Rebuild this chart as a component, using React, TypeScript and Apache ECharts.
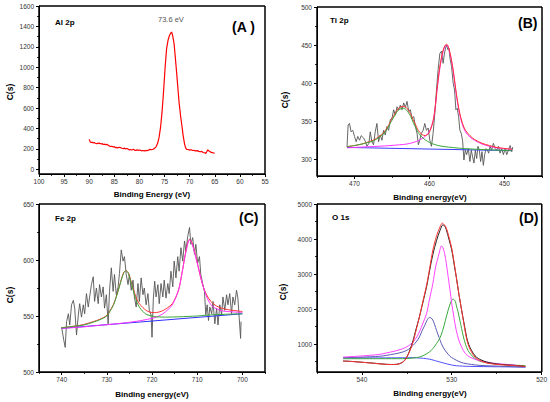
import React, { useEffect, useRef } from 'react';
import * as echarts from 'echarts';

type Pt = [number, number];
const FONT = '"Liberation Sans", Arial, Helvetica, sans-serif';

// ---------- Panel A : Al 2p ----------
const alSpectrum: Pt[] = [
  [90.0, 293], [89.8, 268], [89.6, 262], [89.4, 266], [89.2, 258], [89.0, 262], [88.8, 255], [88.5, 250],
  [88.3, 258], [88.1, 252], [87.9, 256], [87.6, 248], [87.4, 252], [87.2, 243], [86.9, 246], [86.7, 240],
  [86.5, 244], [86.2, 236], [86.0, 228], [85.8, 224], [85.5, 226], [85.2, 218], [85.0, 222], [84.8, 212],
  [84.5, 214], [84.3, 210], [84.0, 216], [83.8, 213], [83.5, 206], [83.2, 202], [83.0, 208], [82.8, 200],
  [82.5, 204], [82.2, 196], [82.0, 190], [81.8, 194], [81.5, 189], [81.2, 196], [81.0, 188], [80.8, 184],
  [80.5, 190], [80.2, 186], [79.9, 189], [79.6, 181], [79.3, 184], [79.0, 180], [78.7, 186], [78.5, 182],
  [78.2, 188], [77.9, 196], [77.6, 192], [77.3, 197], [77.0, 205], [76.7, 220], [76.4, 252], [76.1, 310],
  [75.8, 410], [75.5, 560], [75.2, 760], [74.9, 990], [74.6, 1180], [74.3, 1265], [74.1, 1300], [73.8, 1332],
  [73.6, 1345], [73.4, 1315], [73.1, 1230], [72.9, 1120], [72.6, 950], [72.3, 770], [72.1, 650], [71.8, 520],
  [71.5, 410], [71.3, 330], [71.0, 245], [70.8, 210], [70.6, 196], [70.3, 194], [70.0, 188], [69.7, 192],
  [69.4, 184], [69.1, 186], [68.8, 180], [68.5, 183], [68.2, 176], [67.9, 172], [67.6, 175], [67.3, 165],
  [67.0, 162], [66.8, 156], [66.6, 172], [66.4, 190], [66.2, 182], [66.0, 175], [65.8, 168], [65.5, 164],
  [65.2, 160], [65.0, 157],
];
const aXLabels = [100, 95, 90, 85, 80, 75, 70, 65, 60, 55];
const aXMinor = [97.5, 92.5, 87.5, 82.5, 77.5, 72.5, 67.5, 62.5, 57.5];
const aYLabels = [0, 200, 400, 600, 800, 1000, 1200, 1400, 1600];
const aYMinor = [100, 300, 500, 700, 900, 1100, 1300, 1500];

// ---------- Panel B : Ti 2p ----------
const tiSpectrum: Pt[] = [
  [471.0, 316], [470.85, 345], [470.67, 347], [470.45, 336], [470.23, 338], [470.0, 330], [469.78, 323],
  [469.56, 330], [469.33, 325], [469.11, 331], [468.8, 328], [468.53, 323], [468.35, 317], [468.08, 321],
  [467.9, 336], [467.68, 323], [467.46, 319], [467.24, 336], [467.01, 347], [466.79, 323], [466.57, 332],
  [466.34, 325], [466.12, 338], [465.9, 332], [465.67, 343], [465.45, 338], [465.23, 352], [465.0, 354],
  [464.78, 365], [464.56, 358], [464.33, 369], [464.11, 365], [463.89, 371], [463.67, 365], [463.44, 374],
  [463.22, 368], [463.0, 376], [462.77, 363], [462.55, 365], [462.33, 354], [462.1, 356], [461.88, 343],
  [461.66, 334], [461.48, 319], [461.3, 325], [461.08, 334], [460.85, 338], [460.63, 347], [460.41, 338],
  [460.18, 341], [459.96, 325], [459.74, 317], [459.52, 334], [459.29, 360], [459.07, 391], [458.85, 418],
  [458.62, 439], [458.4, 442], [458.18, 426], [458.04, 437], [457.86, 446], [457.73, 450], [457.55, 444],
  [457.42, 446], [457.24, 431], [457.06, 422], [456.84, 400], [456.66, 391], [456.48, 365], [456.3, 367],
  [456.12, 356], [455.95, 338], [455.77, 334], [455.59, 325], [455.41, 299], [455.23, 312], [455.05, 306],
  [454.83, 314], [454.61, 297], [454.43, 312], [454.25, 303], [454.07, 295], [453.89, 312], [453.71, 301],
  [453.54, 317], [453.36, 312], [453.18, 297], [453.0, 310], [452.82, 292], [452.64, 306], [452.47, 314],
  [452.29, 312], [452.11, 308], [451.93, 317], [451.71, 312], [451.48, 321], [451.26, 314], [451.04, 312],
  [450.81, 317], [450.59, 308], [450.37, 314], [450.14, 306], [449.92, 314], [449.7, 306], [449.48, 312],
  [449.25, 318], [449.03, 310], [448.9, 316],
];
const tiBaseline: Pt[] = [[471, 315.5], [449, 311.3]];
const tiPeak1: Pt[] = [
  [471, 316.5], [470, 318], [469, 320], [468.4, 321.5], [467.5, 324], [466.7, 329], [466.2, 333], [465.7, 339],
  [465.3, 346], [464.9, 353], [464.6, 358], [464.2, 364], [463.8, 366.5], [463.5, 367], [463.1, 365], [462.8, 361],
  [462.5, 356], [462.2, 349], [461.8, 341], [461.5, 335], [461, 329], [460.5, 325], [460, 322], [459.5, 320],
  [458.6, 317.5], [457.5, 316], [456, 314.5], [455, 313.8], [453, 312.8], [451, 312], [449, 311.3],
];
const tiPeak2: Pt[] = [
  [471, 315], [468, 316.5], [466, 317.5], [464, 319], [463, 320], [462, 322.5], [461.5, 324.5], [461, 327],
  [460.6, 330], [460.2, 334], [459.9, 339], [459.5, 351], [459.2, 371], [459, 390], [458.6, 421], [458.2, 441],
  [457.9, 449], [457.7, 450], [457.4, 444], [457.1, 431], [456.8, 413], [456.4, 383], [456, 360], [455.6, 345],
  [455.2, 336], [454.6, 329], [454, 325], [453, 320], [452, 317], [451, 315], [449, 313],
];
const tiEnvelope: Pt[] = [
  [471, 316.5], [470, 318], [469, 320], [468.4, 322], [467.5, 325], [466.7, 330], [466.2, 334], [465.7, 340.5],
  [465.3, 347.5], [464.9, 355], [464.6, 360], [464.2, 366], [463.8, 369], [463.5, 369.5], [463.1, 368], [462.8, 364],
  [462.5, 359], [462.2, 352], [461.8, 344], [461.5, 338], [461, 332.5], [460.6, 331], [460.2, 333], [459.9, 338],
  [459.5, 351], [459.2, 372], [459, 392], [458.6, 423], [458.2, 443], [457.9, 450], [457.7, 451], [457.4, 445],
  [457.1, 432], [456.8, 414], [456.4, 385], [456, 362], [455.6, 347], [455.2, 338], [454.6, 331], [454, 326],
  [453, 321], [452, 318], [451, 315.5], [449, 313],
];
const bXLabels = [470, 460, 450];
const bXMinor = [475, 465, 455, 445];
const bYLabels = [300, 350, 400, 450, 500];
const bYMinor = [325, 375, 425, 475];

// ---------- Panel C : Fe 2p ----------
const feSpectrum: Pt[] = [
  [740.0, 540], [739.5, 528], [739.2, 522], [738.9, 545], [738.5, 552], [738.2, 542], [737.8, 560], [737.4, 564],
  [737.1, 557], [736.7, 533], [736.3, 551], [736.0, 561], [735.6, 549], [735.2, 560], [734.9, 552], [734.5, 570],
  [734.1, 558], [733.8, 567], [733.4, 578], [733.0, 585], [732.7, 563], [732.3, 575], [731.9, 561], [731.6, 578],
  [731.2, 567], [730.8, 576], [730.5, 557], [730.1, 569], [729.7, 543], [729.4, 572], [729.0, 593], [728.6, 572],
  [728.3, 587], [727.9, 569], [727.5, 576], [727.2, 588], [726.8, 609], [726.4, 599], [726.1, 603], [725.7, 587],
  [725.3, 578], [725.0, 587], [724.6, 573], [724.2, 582], [723.9, 567], [723.5, 558], [723.1, 579], [722.8, 563],
  [722.4, 584], [722.0, 569], [721.7, 575], [721.3, 560], [720.9, 570], [720.6, 555], [720.2, 551], [720.0, 531],
  [719.7, 566], [719.4, 581], [719.1, 567], [718.7, 578], [718.4, 561], [718.0, 579], [717.6, 567], [717.3, 582],
  [716.9, 566], [716.5, 579], [716.2, 570], [715.8, 590], [715.4, 576], [715.1, 599], [714.7, 584], [714.3, 603],
  [714.0, 590], [713.6, 611], [713.2, 599], [712.8, 617], [712.5, 608], [712.1, 621], [711.7, 629], [711.4, 614],
  [711.0, 620], [710.6, 605], [710.3, 614], [709.9, 597], [709.5, 603], [709.2, 587], [708.8, 579], [708.4, 572],
  [708.1, 551], [707.8, 560], [707.5, 546], [707.2, 558], [706.8, 552], [706.5, 563], [706.1, 543], [705.7, 557],
  [705.4, 542], [705.0, 560], [704.6, 551], [704.3, 567], [703.9, 555], [703.5, 569], [703.2, 560], [702.8, 570],
  [702.4, 552], [702.1, 567], [701.7, 560], [701.3, 573], [701.0, 566], [700.7, 548], [700.4, 530], [700.3, 545],
];
const feBaseline: Pt[] = [[740, 539], [700, 552]];
const fePeak1: Pt[] = [
  [740, 539.5], [737, 541], [735, 542], [733, 544.5], [731.6, 546.5], [730, 550], [729.4, 553.5], [728.5, 560],
  [727.9, 567], [727.3, 575], [726.8, 582], [726.3, 588], [725.8, 590.5], [725.3, 588.5], [725, 585], [724.5, 578],
  [723.9, 569], [723.3, 562], [722.8, 558], [722, 554], [721.3, 551.5], [720, 550], [719, 549.3], [717, 549],
  [714, 549.3], [710, 550], [707, 551], [704, 551.5], [700, 552],
];
const fePeak2: Pt[] = [
  [740, 539], [736, 540], [732, 541.5], [728, 543], [724.2, 544.8], [721, 547], [719, 549], [717.6, 552],
  [716.5, 555.5], [715.5, 560], [714.7, 567], [714, 575], [713.2, 592], [712.5, 607], [711.7, 618], [711.2, 615],
  [710.6, 607], [710.3, 602], [709.5, 589], [709.2, 584], [708.1, 569], [707.3, 562], [706.6, 558.5], [705.5, 556],
  [704.4, 554.5], [702, 553.6], [700, 553.2],
];
const feEnvelope: Pt[] = [
  [740, 539.5], [737, 541], [735, 542.5], [733, 545], [731.6, 547], [730, 550.5], [729.4, 554], [728.5, 560.5],
  [727.9, 567.5], [727.3, 575.5], [726.8, 582.5], [726.3, 588.5], [725.8, 590.5], [725.3, 589], [725, 586], [724.5, 579],
  [723.9, 571], [723.3, 564.5], [722.8, 561], [722, 557.5], [721.3, 555], [720.5, 553.5], [719.5, 553], [718.5, 553.5],
  [717.5, 555], [716.5, 557.5], [715.5, 561], [714.7, 567], [714, 575], [713.2, 592], [712.5, 608], [711.7, 618.5],
  [711.2, 616], [710.6, 608], [710, 598], [709.2, 584], [708.5, 574], [707.5, 566], [706.5, 561], [705, 557.5],
  [703, 555.5], [701, 554.5], [700, 554],
];
const cXLabels = [740, 730, 720, 710, 700];
const cXMinor = [745, 735, 725, 715, 705, 695];
const cYLabels = [500, 550, 600, 650];
const cYMinor = [525, 575, 625];

// ---------- Panel D : O 1s ----------
const oSpectrum: Pt[] = [
  [542.1, 513], [541, 500], [540.3, 484], [539.5, 470], [538.8, 455], [538, 435], [537.3, 420], [536.7, 415],
  [536.2, 418], [535.8, 440], [535.45, 484], [535.1, 580], [534.7, 800], [534.3, 1106], [534, 1400], [533.6, 1775],
  [533.2, 2200], [532.8, 2636], [532.5, 3050], [532.1, 3560], [531.7, 3950], [531.3, 4250], [531.0, 4400],
  [530.8, 4380], [530.6, 4262], [530.3, 3980], [530.0, 3688], [529.75, 3300], [529.5, 2923], [529.2, 2420],
  [528.9, 1967], [528.6, 1550], [528.35, 1201], [528.1, 980], [527.8, 819], [527.4, 660], [527.0, 580],
  [526.5, 520], [526.1, 484], [525.3, 440], [524.6, 417], [523.1, 388], [521.8, 360],
];
const oEnvelope: Pt[] = [
  [542.1, 513], [541, 498], [540, 478], [539, 455], [538, 432], [537.3, 418], [536.6, 413], [536.1, 420],
  [535.7, 445], [535.3, 510], [535.1, 580], [534.7, 780], [534.3, 1058], [534, 1360], [533.6, 1775], [533.2, 2230],
  [532.8, 2684], [532.5, 3100], [532.1, 3688], [531.7, 4080], [531.3, 4350], [531.05, 4453], [530.8, 4400],
  [530.6, 4310], [530.3, 4050], [530.0, 3736], [529.75, 3350], [529.5, 2923], [529.2, 2420], [528.9, 1967],
  [528.6, 1500], [528.35, 1153], [528.1, 930], [527.8, 771], [527.4, 620], [527.0, 551], [526.5, 490],
  [526.1, 455], [525.3, 425], [524.6, 408], [523.1, 385], [521.8, 360],
];
const oPeakMain: Pt[] = [
  [542.1, 627], [540.5, 650], [539.2, 675], [538, 705], [537.3, 742], [536.3, 800], [535.45, 866], [534.8, 950],
  [534.3, 1058], [533.9, 1200], [533.6, 1345], [533.2, 1600], [532.8, 1871], [532.5, 2250], [532.1, 2732],
  [531.8, 3200], [531.5, 3497], [531.3, 3700], [531.15, 3803], [531.0, 3760], [530.8, 3593], [530.6, 3300],
  [530.4, 2923], [530.2, 2550], [530.0, 2158], [529.75, 1750], [529.5, 1393], [529.2, 1100], [528.9, 914],
  [528.5, 730], [528.0, 627], [527.0, 530], [526.1, 484], [525, 440], [523.9, 417], [522.9, 400],
];
const oPeakLattice: Pt[] = [
  [542.1, 580], [538, 580], [535.45, 582], [534.3, 600], [533.6, 627], [533, 690], [532.5, 771], [532.1, 870],
  [531.7, 1010], [531.3, 1180], [531.0, 1393], [530.7, 1680], [530.4, 1967], [530.1, 2200], [529.85, 2282],
  [529.6, 2220], [529.5, 2110], [529.3, 1920], [529.1, 1680], [528.9, 1440], [528.7, 1201], [528.45, 980],
  [528.2, 819], [527.8, 680], [527.4, 580], [526.9, 510], [526.1, 465], [525, 430], [523.9, 408], [521.8, 379],
];
const oPeakHydroxyl: Pt[] = [
  [542.1, 608], [540, 625], [538, 650], [537.3, 675], [536.3, 720], [535.45, 771], [534.8, 850], [534.3, 962],
  [533.9, 1080], [533.6, 1201], [533.3, 1380], [533.0, 1536], [532.75, 1680], [532.5, 1756], [532.3, 1745],
  [532.1, 1680], [531.9, 1550], [531.7, 1393], [531.4, 1180], [531.15, 1010], [530.9, 880], [530.6, 771],
  [530.2, 650], [529.8, 580], [529.2, 500], [528.7, 455], [527.8, 415], [526.85, 388], [524, 360], [521.8, 340],
];
const oBaseline: Pt[] = [
  [542.1, 599], [538, 603], [535.5, 606], [534.3, 608], [533.5, 598], [532.8, 580], [532.2, 550], [531.7, 513],
  [531.1, 470], [530.6, 436], [530, 400], [529.5, 379], [528.8, 368], [528, 360], [525, 350], [521.8, 340],
];
const dXLabels = [540, 530, 520];
const dXMinor = [545, 535, 525];
const dYLabels = [1000, 2000, 3000, 4000, 5000];
const dYMinor = [500, 1500, 2500, 3500, 4500];

// ---------- layout ----------
const panels = [
  { grid: { left: 39, top: 6, width: 226, height: 168 }, x: [55, 100], y: [-46, 1600],
    xl: aXLabels, xm: aXMinor, yl: aYLabels, ym: aYMinor },
  { grid: { left: 317, top: 7, width: 225, height: 169 }, x: [445, 475], y: [278, 500],
    xl: bXLabels, xm: bXMinor, yl: bYLabels, ym: bYMinor },
  { grid: { left: 39, top: 204, width: 226, height: 168 }, x: [695, 745], y: [500, 650],
    xl: cXLabels, xm: cXMinor, yl: cYLabels, ym: cYMinor },
  { grid: { left: 317, top: 204, width: 225, height: 168 }, x: [520, 545], y: [200, 5000],
    xl: dXLabels, xm: dXMinor, yl: dYLabels, ym: dYMinor },
];

const labelStyle = { fontSize: 6.5, color: '#333', fontFamily: FONT };

function buildOption() {
  const grid: any[] = [];
  const xAxis: any[] = [];
  const yAxis: any[] = [];
  panels.forEach((p) => {
    grid.push({ ...p.grid, show: true, borderColor: '#000', borderWidth: 1, containLabel: false });
  });
  panels.forEach((p, i) => {
    xAxis.push({
      type: 'value', gridIndex: i, min: p.x[0], max: p.x[1], inverse: true, position: 'bottom',
      axisLine: { show: true, onZero: false, lineStyle: { color: '#000', width: 1 } },
      axisTick: { show: true, inside: false, length: 3, customValues: p.xl, lineStyle: { color: '#000', width: 1 } },
      axisLabel: { show: true, customValues: p.xl, margin: 4, ...labelStyle, formatter: (v: number) => String(v) },
      splitLine: { show: false },
    });
    yAxis.push({
      type: 'value', gridIndex: i, min: p.y[0], max: p.y[1], position: 'left',
      axisLine: { show: true, onZero: false, lineStyle: { color: '#000', width: 1 } },
      axisTick: { show: true, inside: false, length: 3, customValues: p.yl, lineStyle: { color: '#000', width: 1 } },
      axisLabel: { show: true, customValues: p.yl, margin: 5, ...labelStyle, formatter: (v: number) => String(v) },
      splitLine: { show: false },
    });
  });
  panels.forEach((p, i) => {
    xAxis.push({
      type: 'value', gridIndex: i, min: p.x[0], max: p.x[1], inverse: true, position: 'bottom', offset: 0,
      axisLine: { show: false, onZero: false },
      axisTick: { show: true, inside: false, length: 1.8, customValues: p.xm, lineStyle: { color: '#000', width: 1 } },
      axisLabel: { show: false }, splitLine: { show: false },
    });
    yAxis.push({
      type: 'value', gridIndex: i, min: p.y[0], max: p.y[1], position: 'left', offset: 0,
      axisLine: { show: false, onZero: false },
      axisTick: { show: true, inside: false, length: 1.8, customValues: p.ym, lineStyle: { color: '#000', width: 1 } },
      axisLabel: { show: false }, splitLine: { show: false },
    });
  });

  const line = (idx: number, data: Pt[], color: string, width: number, smooth: number | boolean, z = 2) => ({
    type: 'line', xAxisIndex: idx, yAxisIndex: idx, data, showSymbol: false, symbol: 'none', smooth,
    lineStyle: { color, width }, itemStyle: { color }, z, silent: true,
  });

  const series = [
    line(0, alSpectrum, '#ff0000', 1.2, false),

    line(1, tiSpectrum, '#555555', 0.9, false),
    line(1, tiBaseline, '#3b3bff', 1, false, 3),
    line(1, tiPeak2, '#ff33ff', 1, 0.3, 3),
    line(1, tiEnvelope, '#ff3333', 1, 0.3, 4),
    line(1, tiPeak1, '#3aa83a', 1, 0.3, 5),

    line(2, feSpectrum, '#555555', 0.9, false),
    line(2, feBaseline, '#3030ff', 1, false, 3),
    line(2, feEnvelope, '#ff3333', 1, 0.3, 4),
    line(2, fePeak2, '#ff33ff', 1, 0.3, 5),
    line(2, fePeak1, '#3aa83a', 1, 0.3, 5),

    line(3, oBaseline, '#4f4fff', 1, 0.3, 3),
    line(3, oPeakHydroxyl, '#5a5ab4', 1, 0.3, 3),
    line(3, oPeakLattice, '#3aa83a', 1, 0.3, 3),
    line(3, oPeakMain, '#ff44ff', 1, 0.3, 3),
    line(3, oSpectrum, '#222222', 1, 0.3, 4),
    line(3, oEnvelope, '#ff3333', 1, 0.3, 5),
  ];

  const txt = (text: string, x: number, y: number, font: string, align = 'left', fill = '#000', rotation = 0) => ({
    type: 'text', x, y, rotation, silent: true, z: 100,
    style: { text, font, fill, align, verticalAlign: 'middle', textAlign: align, textVerticalAlign: 'middle' },
  });
  const frames = panels.map((p) => ({
    type: 'rect', silent: true,
    shape: { x: p.grid.left, y: p.grid.top, width: p.grid.width, height: p.grid.height },
    style: { fill: null, stroke: '#000', lineWidth: 1 },
  }));
  const titleFont = `bold 8px ${FONT}`;
  const tagFont = `bold 14px ${FONT}`;
  const graphic = [
    ...frames,
    txt('Al 2p', 55, 22.7, titleFont),
    txt('73.6 eV', 158, 19, `7.5px ${FONT}`, 'left', '#555'),
    txt('(A )', 232, 27, tagFont),
    txt('Ti 2p', 330, 20.7, titleFont),
    txt('(B)', 518, 22.7, tagFont),
    txt('Fe 2p', 55, 218.3, titleFont),
    txt('(C)', 239, 217.7, tagFont),
    txt('O 1s', 332, 217.7, titleFont),
    txt('(D)', 519, 218, tagFont),
    txt('Binding Energy (eV)', 152, 194, `bold 8px ${FONT}`, 'center'),
    txt('Binding energy(eV)', 430, 197.5, `bold 8px ${FONT}`, 'center'),
    txt('Binding energy(eV)', 152, 394, `bold 8px ${FONT}`, 'center'),
    txt('Binding energy(eV)', 430, 393, `bold 8px ${FONT}`, 'center'),
    txt('C(s)', 10, 92, `bold 8.5px ${FONT}`, 'center', '#000', Math.PI / 2),
    txt('C(s)', 285, 100, `bold 8.5px ${FONT}`, 'center', '#000', Math.PI / 2),
    txt('C(s)', 10, 295, `bold 8.5px ${FONT}`, 'center', '#000', Math.PI / 2),
    txt('C(s)', 283, 292, `bold 8.5px ${FONT}`, 'center', '#000', Math.PI / 2),
  ];

  return { animation: false, backgroundColor: '#ffffff', grid, xAxis, yAxis, series, graphic };
}

export default function App() {
  const ref = useRef<HTMLDivElement>(null);
  useEffect(() => {
    document.body.style.margin = '0';
    if (!ref.current) return;
    const chart = echarts.init(ref.current, undefined, { renderer: 'svg' });
    chart.setOption(buildOption() as any);
    return () => chart.dispose();
  }, []);
  return <div ref={ref} style={{ position: 'absolute', left: 0, top: 0, width: 550, height: 402 }} />;
}
